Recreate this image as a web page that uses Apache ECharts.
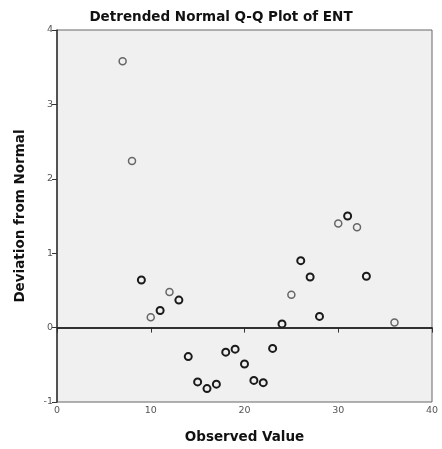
<!DOCTYPE html>
<html><head><meta charset="utf-8">
<script src="https://cdn.jsdelivr.net/npm/echarts@6/dist/echarts.min.js"></script>
<style>html,body{margin:0;padding:0;background:#fff}#c{width:442px;height:449px}</style>
</head><body><div id="c"></div>
<script>
// Dark (heavier) points
const darkObserved = [9, 11, 13, 14, 15, 16, 17, 18, 19, 20, 21, 22, 23, 24, 26, 27, 28, 31, 33];
const darkDeviation = [0.64, 0.23, 0.37, -0.39, -0.73, -0.82, -0.76, -0.33, -0.29, -0.49, -0.71, -0.74, -0.28, 0.05, 0.90, 0.68, 0.15, 1.50, 0.69];
// Light (gray) points
const lightObserved = [7, 8, 10, 12, 25, 30, 32, 36];
const lightDeviation = [3.58, 2.24, 0.14, 0.48, 0.44, 1.40, 1.35, 0.07];
const xTicks = [0, 10, 20, 30, 40];
const yTicks = [-1, 0, 1, 2, 3, 4];

const font = '"DejaVu Sans", sans-serif';
const chart = echarts.init(document.getElementById('c'), null, {renderer: 'canvas'});
chart.setOption({
  animation: false,
  backgroundColor: '#ffffff',
  title: {
    text: 'Detrended Normal Q-Q Plot of ENT',
    left: 'center', top: 5,
    textStyle: {fontFamily: font, fontSize: 13.5, fontWeight: 'bold', color: '#111'}
  },
  grid: {left: 57, right: 10, top: 30, bottom: 46, show: true, backgroundColor: '#f0f0f0', borderColor: '#666', borderWidth: 1},
  xAxis: {
    type: 'value', min: xTicks[0], max: xTicks[xTicks.length - 1], interval: 10,
    name: 'Observed Value', nameLocation: 'middle', nameGap: 28,
    nameTextStyle: {fontFamily: font, fontSize: 13.5, fontWeight: 'bold', color: '#111'},
    axisLine: {lineStyle: {color: '#333', width: 1.5}},
    axisTick: {show: true, length: 5, lineStyle: {color: '#333'}},
    axisLabel: {fontFamily: font, fontSize: 9.5, color: '#555', margin: 4},
    splitLine: {show: false}
  },
  yAxis: {
    type: 'value', min: yTicks[0], max: yTicks[yTicks.length - 1], interval: 1,
    name: 'Deviation from Normal', nameLocation: 'middle', nameGap: 30, nameRotate: 90,
    nameTextStyle: {fontFamily: font, fontSize: 13.5, fontWeight: 'bold', color: '#111'},
    axisLine: {show: true, lineStyle: {color: '#333', width: 1.5}},
    axisTick: {show: true, length: 5, lineStyle: {color: '#333'}},
    axisLabel: {fontFamily: font, fontSize: 9.5, color: '#555', margin: 4},
    splitLine: {show: false}
  },
  series: [
    {
      type: 'scatter', symbol: 'circle', symbolSize: 7,
      data: darkObserved.map((x, i) => [x, darkDeviation[i]]),
      itemStyle: {color: '#f0f0f0', borderColor: '#1a1a1a', borderWidth: 2, opacity: 1},
      markLine: {
        silent: true, symbol: 'none', label: {show: false},
        lineStyle: {color: '#222', width: 1.5, type: 'solid'},
        data: [{yAxis: 0}]
      },
      z: 3
    },
    {
      type: 'scatter', symbol: 'circle', symbolSize: 7,
      data: lightObserved.map((x, i) => [x, lightDeviation[i]]),
      itemStyle: {color: '#f0f0f0', borderColor: '#666', borderWidth: 1.5, opacity: 1},
      z: 3
    }
  ]
});
</script></body></html>
